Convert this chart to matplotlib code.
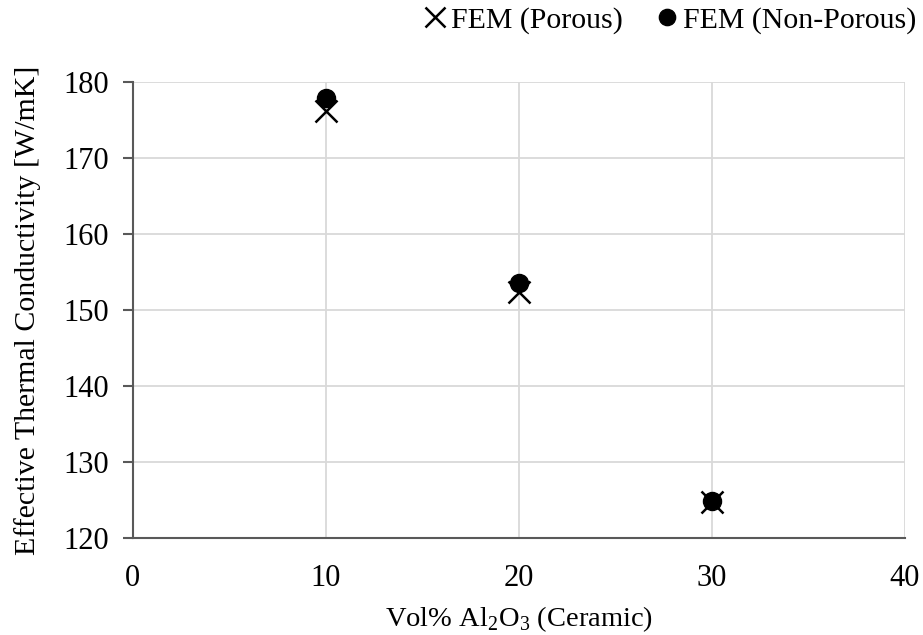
import matplotlib
matplotlib.use("Agg")
import matplotlib.pyplot as plt

plt.rcParams['font.family'] = ['Liberation Serif', 'DejaVu Serif']
plt.rcParams['mathtext.fontset'] = 'custom'
plt.rcParams['mathtext.rm'] = 'Liberation Serif'

vol = [10, 20, 30]
porous = [176.2, 152.4, 124.7]
non_porous = [177.9, 153.5, 124.8]
xticks = [0, 10, 20, 30, 40]
yticks = [120, 130, 140, 150, 160, 170, 180]

FS = 22

fig = plt.figure(figsize=(9.23, 6.35), dpi=100)
ax = fig.add_axes([0.144, 0.153, 0.8365, 0.718])

ax.plot(vol, porous, linestyle='none', marker='x', markersize=16, markeredgewidth=1.8,
        color='black', label='FEM (Porous)', zorder=3)
ax.plot(vol, non_porous, linestyle='none', marker='o', markersize=13,
        color='black', label='FEM (Non-Porous)', zorder=4)

ax.set_xlim(0, 40)
ax.set_ylim(120, 180)
ax.set_xticks(xticks)
ax.set_yticks(yticks)
ax.grid(True, color='#d9d9d9', linewidth=1.3, zorder=0)
ax.set_axisbelow(True)
for s in ['top', 'right']:
    ax.spines[s].set_visible(False)
for s in ['left', 'bottom']:
    ax.spines[s].set_color('#595959')
    ax.spines[s].set_linewidth(1.5)
ax.tick_params(axis='y', direction='out', length=7, width=1.5, color='#595959',
               labelsize=FS, pad=10)
ax.tick_params(axis='x', length=0, labelsize=FS, pad=19)

ax.set_xlabel('Vol% Al$_2$O$_3$ (Ceramic)', fontsize=20.5, labelpad=8)
ax.set_ylabel('Effective Thermal Conductivity [W/mK]', fontsize=21.5, labelpad=16)

fig.legend(loc='upper right', bbox_to_anchor=(1.022, 1.032), ncol=2, frameon=False,
           fontsize=21.5, handletextpad=0.0, columnspacing=0.9, handlelength=1.1,
           markerscale=0.9)

fig.savefig('out.png', dpi=100)
